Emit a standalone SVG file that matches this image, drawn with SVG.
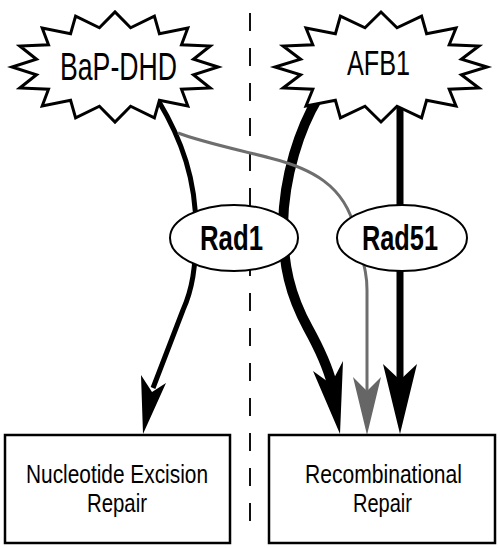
<svg xmlns="http://www.w3.org/2000/svg" width="500" height="548" viewBox="0 0 500 548">
<style>
.txt{font-family:"Liberation Sans",Arial,sans-serif;fill:#000}
.burst{fill:#fff;stroke:#000;stroke-width:3;stroke-linejoin:miter}
.oval{fill:#fff;stroke:#000;stroke-width:2}
.box{fill:#fff;stroke:#000;stroke-width:2.5}
.ln{fill:none;stroke:#000;stroke-linecap:butt;stroke-linejoin:round}
.gray{stroke:#6e6e6e}
.head{fill:#000}
.ghead{fill:#666}
</style>
<rect width="500" height="548" fill="#fff"/>
<line id="divider" x1="250" y1="13" x2="250" y2="527" stroke="#111" stroke-width="2" stroke-dasharray="18 17"/>
<g id="connectors">
<path class="ln" stroke-width="5" d="M158,100 C182,140 196,180 196,230 C196,268 192,290 183,310 L153,388"/>
<polygon class="head" points="143,434 141,375 152,392 166,383"/>
<path class="ln" stroke-width="10" d="M318,98 C300,128 284,175 283,225 C283,265 290,295 308,328 C319,348 327,364 332,384"/>
<polygon class="head" points="340,434 313,371 331,384 343,361"/>
<path class="ln gray" stroke-width="3" d="M178,133 C205,143 240,150 270,158 C310,168 345,185 355,230 C362,260 367,270 367,290 L367,392"/>
<polygon class="ghead" points="367,435 353,377 367,391 381,377"/>
<path class="ln" stroke-width="7" d="M400,100 L400,382"/>
<polygon class="head" points="400,434 383,364 400,380 417,364"/>
</g>
<g id="bap-dhd">
<polygon class="burst" points="218,67 193.5,59.2 210.2,46 181.5,44.8 187.8,28.1 159.4,33.7 154.4,16.2 130.6,27.8 115,12 99.4,27.8 75.6,16.2 70.6,33.7 42.2,28.1 48.5,44.8 19.8,46 36.5,59.2 12,67 36.5,74.8 19.8,88 48.5,89.2 42.2,105.9 70.6,100.3 75.6,117.8 99.4,106.2 115,122 130.6,106.2 154.4,117.8 159.4,100.3 187.8,105.9 181.5,89.2 210.2,88 193.5,74.8"/>
<text class="txt" x="118.5" y="80" font-size="38" text-anchor="middle" textLength="117" lengthAdjust="spacingAndGlyphs">BaP-DHD</text>
</g>
<g id="afb1">
<polygon class="burst" points="487,67 461.4,59.2 478.9,46 449.2,44.8 456,28.1 426.6,33.7 421.6,16.2 397,27.8 381,12 365,27.8 340.4,16.2 335.4,33.7 306,28.1 312.8,44.8 283.1,46 300.6,59.2 275,67 300.6,74.8 283.1,88 312.8,89.2 306,105.9 335.4,100.3 340.4,117.8 365,106.2 381,122 397,106.2 421.6,117.8 426.6,100.3 456,105.9 449.2,89.2 478.9,88 461.4,74.8"/>
<text class="txt" x="378.5" y="75" font-size="35" text-anchor="middle" textLength="63" lengthAdjust="spacingAndGlyphs">AFB1</text>
</g>
<g id="rad1">
<ellipse class="oval" cx="234" cy="238" rx="64" ry="33"/>
<text class="txt" x="231.5" y="250" font-size="35" font-weight="bold" text-anchor="middle" textLength="63" lengthAdjust="spacingAndGlyphs">Rad1</text>
</g>
<g id="rad51">
<ellipse class="oval" cx="402" cy="238" rx="65" ry="33"/>
<text class="txt" x="400" y="250" font-size="35" font-weight="bold" text-anchor="middle" textLength="76" lengthAdjust="spacingAndGlyphs">Rad51</text>
</g>
<g id="ner">
<rect class="box" x="5" y="435" width="225" height="108"/>
<text class="txt" x="117" y="483" font-size="25" text-anchor="middle" textLength="182" lengthAdjust="spacingAndGlyphs">Nucleotide Excision</text>
<text class="txt" x="117" y="512" font-size="25" text-anchor="middle" textLength="60" lengthAdjust="spacingAndGlyphs">Repair</text>
</g>
<g id="rr">
<rect class="box" x="269" y="435" width="226" height="108"/>
<text class="txt" x="383.5" y="483" font-size="25" text-anchor="middle" textLength="157" lengthAdjust="spacingAndGlyphs">Recombinational</text>
<text class="txt" x="382.5" y="512" font-size="25" text-anchor="middle" textLength="59" lengthAdjust="spacingAndGlyphs">Repair</text>
</g>
</svg>
